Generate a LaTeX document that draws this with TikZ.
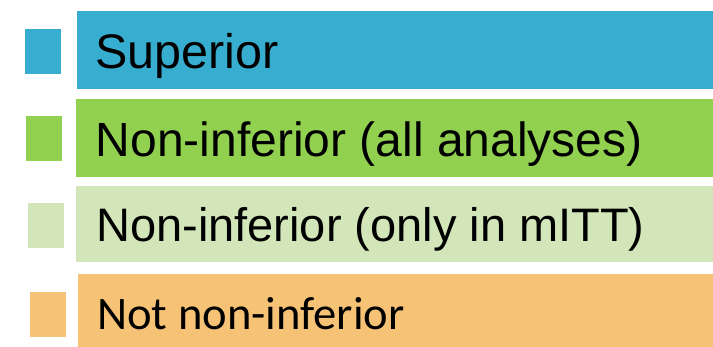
\documentclass[tikz,border=0pt]{standalone}
\usepackage{fontspec}
\setmainfont{Liberation Sans}
\newfontfamily\carlitofont{Carlito}
\definecolor{supblue}{HTML}{37AED0}
\definecolor{nigreen}{HTML}{92D050}
\definecolor{nilight}{HTML}{D2E6BA}
\definecolor{nnorange}{HTML}{F6C376}
\begin{document}
\begin{tikzpicture}[x=1pt,y=-1pt,
  swatch/.style={rectangle, draw=none, inner sep=0pt, anchor=north west,
                 minimum width=36pt, minimum height=44.7pt},
  bar/.style={rectangle, draw=none, inner sep=0pt, anchor=north west},
  lbl/.style={inner sep=0pt, anchor=base west, text=black},
  lblsize/.style={font=\fontsize{#1}{#1}\selectfont}]
  \useasboundingbox (0,0) rectangle (713,347);

  % legend swatches
  \node[swatch, fill=supblue]  (sq1) at (25,29)  {};
  \node[swatch, fill=nigreen]  (sq2) at (26,116) {};
  \node[swatch, fill=nilight]  (sq3) at (28,203) {};
  \node[swatch, fill=nnorange] (sq4) at (30,292) {};

  % legend bars
  \node[bar, fill=supblue,  minimum width=636pt, minimum height=78pt]   (bar1) at (77,11)  {};
  \node[bar, fill=nigreen,  minimum width=637pt, minimum height=77.7pt] (bar2) at (76,99)  {};
  \node[bar, fill=nilight,  minimum width=637pt, minimum height=75.7pt] (bar3) at (76,186) {};
  \node[bar, fill=nnorange, minimum width=635pt, minimum height=73pt]   (bar4) at (78,274) {};

  % labels
  \node[lbl, lblsize=48.5] (txt1) at (95,68.5)    {Superior};
  \node[lbl, lblsize=48]   (txt2) at (95.5,156.5) {Non-inferior (all analyses)};
  \node[lbl, lblsize=47]   (txt3) at (96,242)     {Non-inferior (only in mITT)};
  \node[lbl, font=\carlitofont\fontsize{46.6}{46.6}\selectfont] (txt4) at (97,329.3) {Not non-inferior};
\end{tikzpicture}
\end{document}
